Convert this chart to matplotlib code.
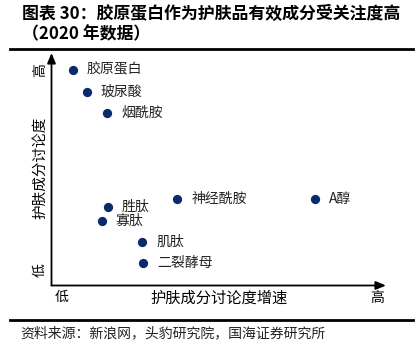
import matplotlib
matplotlib.use("Agg")
import matplotlib.pyplot as plt

plt.rcParams["font.family"] = ["Noto Sans CJK SC", "DejaVu Sans"]

# 成分位置（横轴：讨论度增速，纵轴：讨论度，0-100 相对刻度）
names = ["胶原蛋白", "玻尿酸", "烟酰胺", "神经酰胺", "A醇", "胜肽", "寡肽", "肌肽", "二裂酵母"]
growth = [6.3, 10.6, 16.7, 37.6, 78.8, 16.8, 15.0, 27.1, 27.3]
heat = [92.8, 83.4, 74.3, 37.4, 37.4, 33.7, 27.9, 18.8, 9.8]

W, H = 417, 349
fig = plt.figure(figsize=(W / 100, H / 100), dpi=100)

# 坐标区域（像素 -> 图比例）
x0, x1, y0, y1 = 51.5, 386, 285.5, 53
ax = fig.add_axes([x0 / W, 1 - y0 / H, (x1 - x0) / W, (y0 - y1) / H])
ax.set_xlim(0, 100)
ax.set_ylim(0, 100)
for s in ax.spines.values():
    s.set_visible(False)
ax.set_xticks([])
ax.set_yticks([])
ax.patch.set_alpha(0)

ax.annotate("", xy=(1.0, 0), xytext=(0, 0), xycoords="axes fraction",
            arrowprops=dict(arrowstyle="-|>,head_length=0.6,head_width=0.25",
                            color="black", lw=1.3, shrinkA=0, shrinkB=0))
ax.annotate("", xy=(0, 1.0), xytext=(0, 0), xycoords="axes fraction",
            arrowprops=dict(arrowstyle="-|>,head_length=0.6,head_width=0.25",
                            color="black", lw=1.3, shrinkA=0, shrinkB=0))

ax.scatter(growth, heat, s=32, color="#0b2a6e", zorder=3)
for n, gx, hy in zip(names, growth, heat):
    ax.annotate(n, (gx, hy), xytext=(10, 0), textcoords="offset points",
                va="center", ha="left", fontsize=10, color="#222222")

# 轴标签
fig.text(40 / W, 1 - 70 / H, "高", rotation=90, ha="center", va="center", fontsize=10)
fig.text(40 / W, 1 - 270 / H, "低", rotation=90, ha="center", va="center", fontsize=10)
fig.text(40 / W, 1 - 168 / H, "护肤成分讨论度", rotation=90, ha="center", va="center", fontsize=10.5)
fig.text(62 / W, 1 - 297 / H, "低", ha="center", va="center", fontsize=10)
fig.text(377 / W, 1 - 298 / H, "高", ha="center", va="center", fontsize=10)
fig.text(219 / W, 1 - 298 / H, "护肤成分讨论度增速", ha="center", va="center", fontsize=11)

# 标题与来源
fig.text(22 / W, 1 - 14 / H, "图表 30：胶原蛋白作为护肤品有效成分受关注度高",
         ha="left", va="center", fontsize=12.2, fontweight="bold")
fig.text(22 / W, 1 - 34 / H, "（2020 年数据）",
         ha="left", va="center", fontsize=12.2, fontweight="bold")
fig.add_artist(plt.Line2D([10 / W, 413 / W], [1 - 49 / H, 1 - 49 / H], color="black", lw=2))
fig.add_artist(plt.Line2D([10 / W, 413 / W], [1 - 320 / H, 1 - 320 / H], color="black", lw=2))
fig.text(20 / W, 1 - 333 / H, "资料来源：新浪网，头豹研究院，国海证券研究所",
         ha="left", va="center", fontsize=10, color="#222222")

fig.savefig("out.png", dpi=100)
